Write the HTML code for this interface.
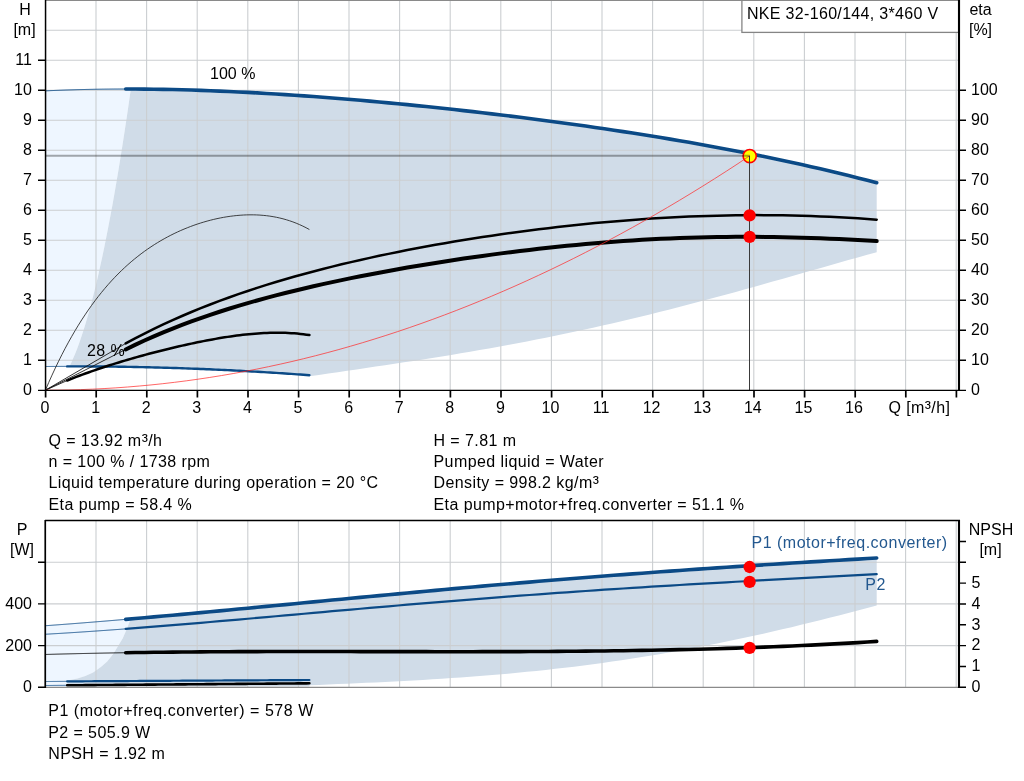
<!DOCTYPE html>
<html lang="en">
<head>
<meta charset="utf-8">
<title>NKE 32-160/144 pump curve</title>
<style>
html,body{margin:0;padding:0;background:#fff;}
body{width:1024px;height:781px;overflow:hidden;font-family:"Liberation Sans",sans-serif;}
svg{display:block;}
</style>
</head>
<body>
<svg width="1024" height="781" viewBox="0 0 1024 781">
<rect width="1024" height="781" fill="#fff"/>
<path d="M45.40,366.51 L45.40,90.87 L53.95,90.49 L62.49,90.15 L71.04,89.86 L79.58,89.62 L88.13,89.42 L96.67,89.26 L105.22,89.14 L113.76,89.07 L122.31,89.03 L130.85,89.03 L130.85,89.03 L128.80,103.29 L126.76,117.20 L124.71,130.77 L122.66,143.99 L120.62,156.87 L118.57,169.40 L116.52,181.58 L114.47,193.42 L112.43,204.91 L110.38,216.06 L108.33,226.86 L106.28,237.32 L104.24,247.43 L102.19,257.19 L100.14,266.61 L98.09,275.68 L96.05,284.41 L94.00,292.79 L91.95,300.82 L89.90,308.51 L87.86,315.85 L85.81,322.85 L83.76,329.50 L81.71,335.81 L79.67,341.77 L77.62,347.38 L75.57,352.65 L73.53,357.57 L71.48,362.15 L69.43,366.38 Z" fill="#eef6ff"/>
<path d="M69.43,366.38 L71.48,362.15 L73.53,357.57 L75.57,352.65 L77.62,347.38 L79.67,341.77 L81.71,335.81 L83.76,329.50 L85.81,322.85 L87.86,315.85 L89.90,308.51 L91.95,300.82 L94.00,292.79 L96.05,284.41 L98.09,275.68 L100.14,266.61 L102.19,257.19 L104.24,247.43 L106.28,237.32 L108.33,226.86 L110.38,216.06 L112.43,204.91 L114.47,193.42 L116.52,181.58 L118.57,169.40 L120.62,156.87 L122.66,143.99 L124.71,130.77 L126.76,117.20 L128.80,103.29 L130.85,89.03 L130.85,89.03 L140.18,89.08 L149.50,89.16 L158.82,89.29 L168.14,89.46 L177.47,89.67 L186.79,89.92 L196.11,90.20 L205.44,90.52 L214.76,90.88 L224.08,91.27 L233.41,91.69 L242.73,92.15 L252.05,92.63 L261.38,93.15 L270.70,93.69 L280.02,94.27 L289.34,94.87 L298.67,95.50 L307.99,96.16 L317.31,96.84 L326.64,97.55 L335.96,98.28 L345.28,99.03 L354.61,99.81 L363.93,100.62 L373.25,101.45 L382.58,102.29 L391.90,103.17 L401.22,104.06 L410.55,104.97 L419.87,105.91 L429.19,106.87 L438.51,107.85 L447.84,108.85 L457.16,109.87 L466.48,110.91 L475.81,111.97 L485.13,113.05 L494.45,114.15 L503.78,115.28 L513.10,116.42 L522.42,117.59 L531.75,118.77 L541.07,119.98 L550.39,121.21 L559.71,122.47 L569.04,123.74 L578.36,125.04 L587.68,126.36 L597.01,127.70 L606.33,129.07 L615.65,130.47 L624.98,131.88 L634.30,133.33 L643.62,134.80 L652.95,136.30 L662.27,137.83 L671.59,139.38 L680.91,140.96 L690.24,142.58 L699.56,144.22 L708.88,145.90 L718.21,147.61 L727.53,149.36 L736.85,151.13 L746.18,152.95 L755.50,154.80 L764.82,156.69 L774.15,158.62 L783.47,160.59 L792.79,162.60 L802.12,164.65 L811.44,166.75 L820.76,168.89 L830.08,171.08 L839.41,173.32 L848.73,175.60 L858.05,177.94 L867.38,180.33 L876.70,182.78 L876.70,252.20 L867.25,254.82 L857.79,257.46 L848.33,260.12 L838.88,262.79 L829.42,265.48 L819.97,268.17 L810.51,270.86 L801.06,273.55 L791.61,276.24 L782.15,278.92 L772.69,281.59 L763.24,284.26 L753.78,286.90 L744.33,289.53 L734.88,292.14 L725.42,294.73 L715.97,297.29 L706.51,299.83 L697.05,302.34 L687.60,304.82 L678.14,307.27 L668.69,309.68 L659.24,312.07 L649.78,314.41 L640.33,316.72 L630.87,319.00 L621.41,321.23 L611.96,323.43 L602.50,325.59 L593.05,327.71 L583.60,329.79 L574.14,331.83 L564.68,333.83 L555.23,335.79 L545.77,337.71 L536.32,339.59 L526.87,341.43 L517.41,343.23 L507.96,345.00 L498.50,346.73 L489.05,348.43 L479.59,350.09 L470.13,351.72 L460.68,353.32 L451.22,354.89 L441.77,356.43 L432.31,357.94 L422.86,359.43 L413.41,360.90 L403.95,362.35 L394.50,363.78 L385.04,365.20 L375.58,366.61 L366.13,368.00 L356.68,369.39 L347.22,370.78 L337.76,372.16 L328.31,373.55 L318.86,374.95 L309.40,376.35 L309.40,375.22 L297.40,374.35 L285.40,373.51 L273.40,372.73 L261.41,371.99 L249.41,371.29 L237.41,370.65 L225.41,370.04 L213.41,369.49 L201.41,368.98 L189.42,368.51 L177.42,368.09 L165.42,367.72 L153.42,367.39 L141.42,367.11 L129.42,366.87 L117.42,366.68 L105.43,366.54 L93.43,366.44 L81.43,366.39 L69.43,366.38 Z" fill="#d0dce8"/>
<path d="M45.40,686.80 L45.40,625.72 L45.40,625.72 L56.05,624.94 L66.70,624.14 L77.35,623.32 L88.00,622.48 L98.65,621.62 L109.30,620.74 L119.95,619.84 L130.60,618.93 L130.60,618.93 L127.50,627.25 L122.80,638.20 L118.10,646.00 L113.40,653.80 L107.20,661.60 L100.90,667.10 L93.10,672.60 L85.30,676.00 L77.50,678.50 L67.30,680.60 L67.30,686.80 Z" fill="#eef6ff"/>
<path d="M67.30,680.60 L77.50,678.50 L85.30,676.00 L93.10,672.60 L100.90,667.10 L107.20,661.60 L113.40,653.80 L118.10,646.00 L122.80,638.20 L127.50,627.25 L130.60,618.93 L130.60,618.93 L143.03,617.85 L155.47,616.75 L167.91,615.63 L180.34,614.50 L192.77,613.36 L205.21,612.20 L217.65,611.04 L230.08,609.86 L242.52,608.68 L254.95,607.49 L267.38,606.30 L279.82,605.11 L292.25,603.92 L304.69,602.72 L317.12,601.52 L329.56,600.33 L342.00,599.14 L354.43,597.95 L366.86,596.77 L379.30,595.59 L391.73,594.42 L404.17,593.26 L416.61,592.10 L429.04,590.96 L441.48,589.82 L453.91,588.69 L466.34,587.58 L478.78,586.47 L491.21,585.38 L503.65,584.30 L516.08,583.23 L528.52,582.18 L540.95,581.13 L553.39,580.11 L565.83,579.09 L578.26,578.09 L590.69,577.11 L603.13,576.13 L615.56,575.18 L628.00,574.24 L640.43,573.31 L652.87,572.39 L665.30,571.49 L677.74,570.61 L690.17,569.73 L702.61,568.87 L715.04,568.03 L727.48,567.20 L739.91,566.38 L752.35,565.57 L764.79,564.77 L777.22,563.98 L789.66,563.21 L802.09,562.44 L814.52,561.68 L826.96,560.93 L839.39,560.19 L851.83,559.46 L864.26,558.73 L876.70,558.00 L876.70,605.51 L867.25,608.03 L857.79,610.53 L848.33,613.00 L838.88,615.45 L829.42,617.85 L819.97,620.23 L810.51,622.57 L801.06,624.87 L791.61,627.13 L782.15,629.36 L772.69,631.54 L763.24,633.68 L753.78,635.78 L744.33,637.83 L734.88,639.84 L725.42,641.80 L715.97,643.72 L706.51,645.59 L697.05,647.41 L687.60,649.18 L678.14,650.90 L668.69,652.58 L659.24,654.21 L649.78,655.78 L640.33,657.31 L630.87,658.79 L621.41,660.22 L611.96,661.59 L602.50,662.93 L593.05,664.21 L583.60,665.44 L574.14,666.63 L564.68,667.77 L555.23,668.86 L545.77,669.91 L536.32,670.91 L526.87,671.87 L517.41,672.79 L507.96,673.66 L498.50,674.50 L489.05,675.30 L479.59,676.05 L470.13,676.78 L460.68,677.46 L451.22,678.12 L441.77,678.74 L432.31,679.34 L422.86,679.90 L413.41,680.44 L403.95,680.96 L394.50,681.45 L385.04,681.93 L375.58,682.39 L366.13,682.83 L356.68,683.26 L347.22,683.68 L337.76,684.09 L328.31,684.50 L318.86,684.91 L309.40,685.32 L309.40,686.50 L67.30,686.50 Z" fill="#d0dce8"/>
<path d="M96.00,1V390 M96.00,521V687 M146.60,1V390 M146.60,521V687 M197.20,1V390 M197.20,521V687 M247.80,1V390 M247.80,521V687 M298.40,1V390 M298.40,521V687 M349.00,1V390 M349.00,521V687 M399.60,1V390 M399.60,521V687 M450.20,1V390 M450.20,521V687 M500.80,1V390 M500.80,521V687 M551.40,1V390 M551.40,521V687 M602.00,1V390 M602.00,521V687 M652.60,1V390 M652.60,521V687 M703.20,1V390 M703.20,521V687 M753.80,1V390 M753.80,521V687 M804.40,1V390 M804.40,521V687 M855.00,1V390 M855.00,521V687 M905.60,1V390 M905.60,521V687 M956.20,1V390 M956.20,521V687 M46,360.20H959 M46,330.20H959 M46,300.20H959 M46,270.20H959 M46,240.20H959 M46,210.20H959 M46,180.20H959 M46,150.20H959 M46,120.20H959 M46,90.20H959 M46,60.20H959 M46,30.20H959 M46,645.60H959 M46,603.90H959 M46,562.20H959" stroke="#cbced1" stroke-width="1.1" fill="none"/>
<path d="M45.40,90.87 L46.40,90.82 L47.41,90.77 L48.41,90.73 L49.41,90.68 L50.42,90.64 L51.42,90.59 L52.43,90.55 L53.43,90.51 L54.43,90.46 L55.44,90.42 L56.44,90.38 L57.45,90.34 L58.45,90.30 L59.45,90.26 L60.46,90.23 L61.46,90.19 L62.46,90.15 L63.47,90.11 L64.47,90.08 L65.47,90.04 L66.48,90.01 L67.48,89.98 L68.49,89.94 L69.49,89.91 L70.49,89.88 L71.50,89.85 L72.50,89.82 L73.50,89.79 L74.51,89.76 L75.51,89.73 L76.52,89.70 L77.52,89.67 L78.52,89.65 L79.53,89.62 L80.53,89.59 L81.53,89.57 L82.54,89.54 L83.54,89.52 L84.55,89.50 L85.55,89.47 L86.55,89.45 L87.56,89.43 L88.56,89.41 L89.56,89.39 L90.57,89.37 L91.57,89.35 L92.58,89.33 L93.58,89.31 L94.58,89.29 L95.59,89.28 L96.59,89.26 L97.60,89.24 L98.60,89.23 L99.60,89.21 L100.61,89.20 L101.61,89.19 L102.61,89.17 L103.62,89.16 L104.62,89.15 L105.63,89.14 L106.63,89.13 L107.63,89.12 L108.64,89.11 L109.64,89.10 L110.64,89.09 L111.65,89.08 L112.65,89.07 L113.66,89.07 L114.66,89.06 L115.66,89.06 L116.67,89.05 L117.67,89.05 L118.67,89.04 L119.68,89.04 L120.68,89.03 L121.69,89.03 L122.69,89.03 L123.69,89.03 L124.70,89.03 L125.70,89.03" stroke="#0b4a86" stroke-width="1.0" fill="none" stroke-linecap="butt" stroke-linejoin="round"/>
<path d="M125.70,89.03 L135.09,89.05 L144.48,89.11 L153.86,89.22 L163.25,89.37 L172.64,89.56 L182.03,89.79 L191.41,90.06 L200.80,90.36 L210.19,90.70 L219.58,91.08 L228.96,91.49 L238.35,91.93 L247.74,92.40 L257.12,92.91 L266.51,93.44 L275.90,94.01 L285.29,94.60 L294.68,95.23 L304.06,95.88 L313.45,96.55 L322.84,97.25 L332.23,97.98 L341.61,98.73 L351.00,99.51 L360.39,100.31 L369.77,101.13 L379.16,101.98 L388.55,102.85 L397.94,103.74 L407.32,104.66 L416.71,105.59 L426.10,106.55 L435.49,107.53 L444.88,108.53 L454.26,109.55 L463.65,110.59 L473.04,111.65 L482.42,112.73 L491.81,113.84 L501.20,114.96 L510.59,116.11 L519.98,117.28 L529.36,118.47 L538.75,119.68 L548.14,120.91 L557.52,122.17 L566.91,123.45 L576.30,124.75 L585.69,126.07 L595.08,127.42 L604.46,128.80 L613.85,130.19 L623.24,131.62 L632.62,133.07 L642.01,134.54 L651.40,136.05 L660.79,137.58 L670.17,139.14 L679.56,140.73 L688.95,142.35 L698.34,144.01 L707.73,145.69 L717.11,147.41 L726.50,149.16 L735.89,150.95 L745.27,152.77 L754.66,154.63 L764.05,156.53 L773.44,158.47 L782.82,160.45 L792.21,162.47 L801.60,164.54 L810.99,166.65 L820.38,168.80 L829.76,171.00 L839.15,173.26 L848.54,175.56 L857.92,177.91 L867.31,180.32 L876.70,182.78" stroke="#0b4a86" stroke-width="3.6" fill="none" stroke-linecap="round" stroke-linejoin="round"/>
<path d="M45.40,366.51 L45.67,366.50 L45.95,366.50 L46.22,366.50 L46.49,366.50 L46.76,366.50 L47.03,366.49 L47.31,366.49 L47.58,366.49 L47.85,366.49 L48.12,366.48 L48.40,366.48 L48.67,366.48 L48.94,366.48 L49.21,366.48 L49.49,366.47 L49.76,366.47 L50.03,366.47 L50.30,366.47 L50.58,366.46 L50.85,366.46 L51.12,366.46 L51.39,366.46 L51.67,366.46 L51.94,366.46 L52.21,366.45 L52.48,366.45 L52.76,366.45 L53.03,366.45 L53.30,366.45 L53.58,366.44 L53.85,366.44 L54.12,366.44 L54.39,366.44 L54.66,366.44 L54.94,366.44 L55.21,366.43 L55.48,366.43 L55.76,366.43 L56.03,366.43 L56.30,366.43 L56.57,366.43 L56.84,366.43 L57.12,366.42 L57.39,366.42 L57.66,366.42 L57.94,366.42 L58.21,366.42 L58.48,366.42 L58.75,366.42 L59.03,366.41 L59.30,366.41 L59.57,366.41 L59.84,366.41 L60.12,366.41 L60.39,366.41 L60.66,366.41 L60.93,366.41 L61.20,366.40 L61.48,366.40 L61.75,366.40 L62.02,366.40 L62.30,366.40 L62.57,366.40 L62.84,366.40 L63.11,366.40 L63.39,366.40 L63.66,366.40 L63.93,366.40 L64.20,366.39 L64.48,366.39 L64.75,366.39 L65.02,366.39 L65.29,366.39 L65.56,366.39 L65.84,366.39 L66.11,366.39 L66.38,366.39 L66.66,366.39 L66.93,366.39 L67.20,366.39" stroke="#0b4a86" stroke-width="1.0" fill="none" stroke-linecap="butt" stroke-linejoin="round"/>
<path d="M67.20,366.39 L70.23,366.38 L73.25,366.38 L76.28,366.38 L79.31,366.39 L82.34,366.39 L85.37,366.40 L88.39,366.41 L91.42,366.43 L94.45,366.45 L97.47,366.47 L100.50,366.49 L103.53,366.52 L106.56,366.55 L109.59,366.59 L112.61,366.62 L115.64,366.66 L118.67,366.70 L121.69,366.75 L124.72,366.79 L127.75,366.85 L130.78,366.90 L133.81,366.96 L136.83,367.01 L139.86,367.08 L142.89,367.14 L145.92,367.21 L148.94,367.28 L151.97,367.36 L155.00,367.43 L158.03,367.51 L161.05,367.60 L164.08,367.68 L167.11,367.77 L170.14,367.86 L173.16,367.96 L176.19,368.05 L179.22,368.15 L182.25,368.26 L185.27,368.36 L188.30,368.47 L191.33,368.58 L194.36,368.70 L197.38,368.82 L200.41,368.94 L203.44,369.06 L206.47,369.19 L209.49,369.32 L212.52,369.45 L215.55,369.58 L218.58,369.72 L221.60,369.86 L224.63,370.01 L227.66,370.15 L230.69,370.30 L233.71,370.46 L236.74,370.61 L239.77,370.77 L242.80,370.93 L245.82,371.10 L248.85,371.26 L251.88,371.43 L254.91,371.61 L257.93,371.78 L260.96,371.96 L263.99,372.14 L267.01,372.33 L270.04,372.52 L273.07,372.71 L276.10,372.90 L279.12,373.10 L282.15,373.30 L285.18,373.50 L288.21,373.70 L291.24,373.91 L294.26,374.12 L297.29,374.34 L300.32,374.55 L303.34,374.77 L306.37,375.00 L309.40,375.22" stroke="#0b4a86" stroke-width="2.4" fill="none" stroke-linecap="round" stroke-linejoin="round"/>
<path d="M45.40,390.20 L48.70,382.55 L52.00,375.17 L55.30,368.07 L58.60,361.22 L61.90,354.63 L65.20,348.28 L68.50,342.16 L71.80,336.28 L75.10,330.61 L78.40,325.16 L81.70,319.92 L85.00,314.88 L88.30,310.03 L91.60,305.36 L94.90,300.88 L98.20,296.57 L101.50,292.43 L104.80,288.45 L108.10,284.62 L111.40,280.95 L114.70,277.42 L118.00,274.03 L121.30,270.77 L124.60,267.65 L127.90,264.65 L131.20,261.77 L134.50,259.01 L137.80,256.36 L141.10,253.81 L144.40,251.38 L147.70,249.04 L151.00,246.80 L154.30,244.65 L157.60,242.60 L160.90,240.63 L164.20,238.75 L167.50,236.95 L170.80,235.23 L174.10,233.59 L177.40,232.03 L180.70,230.53 L184.00,229.12 L187.30,227.77 L190.60,226.49 L193.90,225.28 L197.20,224.14 L200.50,223.06 L203.80,222.05 L207.10,221.10 L210.40,220.22 L213.70,219.40 L217.00,218.65 L220.30,217.96 L223.60,217.34 L226.90,216.79 L230.20,216.30 L233.50,215.88 L236.80,215.52 L240.10,215.24 L243.40,215.03 L246.70,214.89 L250.00,214.83 L253.30,214.84 L256.60,214.93 L259.90,215.10 L263.20,215.36 L266.50,215.70 L269.80,216.13 L273.10,216.66 L276.40,217.28 L279.70,217.99 L283.00,218.81 L286.30,219.74 L289.60,220.77 L292.90,221.92 L296.20,223.19 L299.50,224.58 L302.80,226.10 L306.10,227.74 L309.40,229.53" stroke="#222" stroke-width="0.85" fill="none" stroke-linecap="butt" stroke-linejoin="round"/>
<path d="M45.4,390.2 L125.70,343.44" stroke="#111" stroke-width="0.85" fill="none"/>
<path d="M125.70,343.44 L135.09,338.41 L144.48,333.57 L153.86,328.92 L163.25,324.45 L172.64,320.14 L182.03,316.00 L191.41,312.02 L200.80,308.18 L210.19,304.49 L219.58,300.92 L228.96,297.49 L238.35,294.18 L247.74,290.98 L257.12,287.89 L266.51,284.91 L275.90,282.03 L285.29,279.25 L294.68,276.56 L304.06,273.95 L313.45,271.43 L322.84,268.99 L332.23,266.63 L341.61,264.33 L351.00,262.11 L360.39,259.95 L369.77,257.86 L379.16,255.83 L388.55,253.86 L397.94,251.95 L407.32,250.09 L416.71,248.29 L426.10,246.54 L435.49,244.84 L444.88,243.20 L454.26,241.60 L463.65,240.04 L473.04,238.54 L482.42,237.08 L491.81,235.67 L501.20,234.30 L510.59,232.98 L519.98,231.70 L529.36,230.47 L538.75,229.28 L548.14,228.14 L557.52,227.04 L566.91,225.99 L576.30,224.98 L585.69,224.02 L595.08,223.10 L604.46,222.23 L613.85,221.41 L623.24,220.63 L632.62,219.91 L642.01,219.23 L651.40,218.60 L660.79,218.02 L670.17,217.49 L679.56,217.02 L688.95,216.59 L698.34,216.22 L707.73,215.90 L717.11,215.64 L726.50,215.42 L735.89,215.27 L745.27,215.17 L754.66,215.12 L764.05,215.13 L773.44,215.20 L782.82,215.32 L792.21,215.50 L801.60,215.74 L810.99,216.03 L820.38,216.38 L829.76,216.79 L839.15,217.25 L848.54,217.77 L857.92,218.34 L867.31,218.97 L876.70,219.66" stroke="#000" stroke-width="2.5" fill="none" stroke-linecap="round" stroke-linejoin="round"/>
<path d="M45.4,390.2 L125.70,349.45" stroke="#111" stroke-width="0.85" fill="none"/>
<path d="M125.70,349.45 L135.09,344.91 L144.48,340.56 L153.86,336.40 L163.25,332.42 L172.64,328.60 L182.03,324.95 L191.41,321.45 L200.80,318.09 L210.19,314.86 L219.58,311.76 L228.96,308.78 L238.35,305.91 L247.74,303.14 L257.12,300.47 L266.51,297.90 L275.90,295.41 L285.29,293.01 L294.68,290.69 L304.06,288.44 L313.45,286.26 L322.84,284.14 L332.23,282.09 L341.61,280.10 L351.00,278.16 L360.39,276.28 L369.77,274.44 L379.16,272.66 L388.55,270.93 L397.94,269.24 L407.32,267.59 L416.71,265.99 L426.10,264.43 L435.49,262.91 L444.88,261.43 L454.26,259.99 L463.65,258.59 L473.04,257.23 L482.42,255.91 L491.81,254.63 L501.20,253.39 L510.59,252.19 L519.98,251.03 L529.36,249.91 L538.75,248.83 L548.14,247.79 L557.52,246.79 L566.91,245.84 L576.30,244.93 L585.69,244.06 L595.08,243.25 L604.46,242.47 L613.85,241.75 L623.24,241.07 L632.62,240.44 L642.01,239.85 L651.40,239.32 L660.79,238.84 L670.17,238.41 L679.56,238.02 L688.95,237.69 L698.34,237.41 L707.73,237.19 L717.11,237.01 L726.50,236.89 L735.89,236.81 L745.27,236.79 L754.66,236.82 L764.05,236.89 L773.44,237.02 L782.82,237.19 L792.21,237.41 L801.60,237.67 L810.99,237.97 L820.38,238.32 L829.76,238.70 L839.15,239.12 L848.54,239.57 L857.92,240.05 L867.31,240.56 L876.70,241.09" stroke="#000" stroke-width="4.0" fill="none" stroke-linecap="round" stroke-linejoin="round"/>
<path d="M45.4,390.2 L67.20,380.55" stroke="#111" stroke-width="0.85" fill="none"/>
<path d="M67.20,380.55 L70.23,379.33 L73.25,378.12 L76.28,376.95 L79.31,375.79 L82.34,374.65 L85.37,373.54 L88.39,372.45 L91.42,371.37 L94.45,370.31 L97.47,369.28 L100.50,368.25 L103.53,367.25 L106.56,366.26 L109.59,365.29 L112.61,364.33 L115.64,363.38 L118.67,362.45 L121.69,361.53 L124.72,360.63 L127.75,359.74 L130.78,358.86 L133.81,357.99 L136.83,357.13 L139.86,356.29 L142.89,355.45 L145.92,354.63 L148.94,353.82 L151.97,353.02 L155.00,352.23 L158.03,351.45 L161.05,350.68 L164.08,349.92 L167.11,349.17 L170.14,348.43 L173.16,347.71 L176.19,346.99 L179.22,346.29 L182.25,345.60 L185.27,344.92 L188.30,344.25 L191.33,343.60 L194.36,342.95 L197.38,342.33 L200.41,341.71 L203.44,341.11 L206.47,340.52 L209.49,339.95 L212.52,339.40 L215.55,338.86 L218.58,338.34 L221.60,337.83 L224.63,337.35 L227.66,336.88 L230.69,336.43 L233.71,336.01 L236.74,335.60 L239.77,335.22 L242.80,334.86 L245.82,334.53 L248.85,334.22 L251.88,333.93 L254.91,333.68 L257.93,333.45 L260.96,333.25 L263.99,333.08 L267.01,332.95 L270.04,332.84 L273.07,332.78 L276.10,332.74 L279.12,332.75 L282.15,332.79 L285.18,332.87 L288.21,332.99 L291.24,333.15 L294.26,333.36 L297.29,333.62 L300.32,333.92 L303.34,334.26 L306.37,334.66 L309.40,335.11" stroke="#000" stroke-width="2.5" fill="none" stroke-linecap="round" stroke-linejoin="round"/>
<path d="M45.40,625.72 L46.40,625.65 L47.41,625.58 L48.41,625.51 L49.41,625.43 L50.42,625.36 L51.42,625.29 L52.43,625.21 L53.43,625.14 L54.43,625.06 L55.44,624.99 L56.44,624.92 L57.45,624.84 L58.45,624.77 L59.45,624.69 L60.46,624.62 L61.46,624.54 L62.46,624.47 L63.47,624.39 L64.47,624.31 L65.47,624.24 L66.48,624.16 L67.48,624.08 L68.49,624.01 L69.49,623.93 L70.49,623.85 L71.50,623.78 L72.50,623.70 L73.50,623.62 L74.51,623.54 L75.51,623.46 L76.52,623.39 L77.52,623.31 L78.52,623.23 L79.53,623.15 L80.53,623.07 L81.53,622.99 L82.54,622.91 L83.54,622.83 L84.55,622.75 L85.55,622.67 L86.55,622.59 L87.56,622.51 L88.56,622.43 L89.56,622.35 L90.57,622.27 L91.57,622.19 L92.58,622.11 L93.58,622.03 L94.58,621.95 L95.59,621.87 L96.59,621.79 L97.60,621.70 L98.60,621.62 L99.60,621.54 L100.61,621.46 L101.61,621.37 L102.61,621.29 L103.62,621.21 L104.62,621.13 L105.63,621.04 L106.63,620.96 L107.63,620.88 L108.64,620.79 L109.64,620.71 L110.64,620.63 L111.65,620.54 L112.65,620.46 L113.66,620.37 L114.66,620.29 L115.66,620.20 L116.67,620.12 L117.67,620.03 L118.67,619.95 L119.68,619.86 L120.68,619.78 L121.69,619.69 L122.69,619.61 L123.69,619.52 L124.70,619.44 L125.70,619.35" stroke="#0b4a86" stroke-width="0.9" fill="none" stroke-linecap="butt" stroke-linejoin="round"/>
<path d="M125.70,619.35 L135.09,618.54 L144.48,617.72 L153.86,616.89 L163.25,616.05 L172.64,615.20 L182.03,614.35 L191.41,613.48 L200.80,612.61 L210.19,611.74 L219.58,610.85 L228.96,609.97 L238.35,609.08 L247.74,608.18 L257.12,607.29 L266.51,606.39 L275.90,605.49 L285.29,604.59 L294.68,603.68 L304.06,602.78 L313.45,601.88 L322.84,600.98 L332.23,600.07 L341.61,599.18 L351.00,598.28 L360.39,597.38 L369.77,596.49 L379.16,595.61 L388.55,594.72 L397.94,593.84 L407.32,592.96 L416.71,592.09 L426.10,591.23 L435.49,590.37 L444.88,589.51 L454.26,588.66 L463.65,587.82 L473.04,586.98 L482.42,586.15 L491.81,585.33 L501.20,584.51 L510.59,583.70 L519.98,582.90 L529.36,582.10 L538.75,581.32 L548.14,580.54 L557.52,579.77 L566.91,579.00 L576.30,578.25 L585.69,577.50 L595.08,576.76 L604.46,576.03 L613.85,575.31 L623.24,574.59 L632.62,573.89 L642.01,573.19 L651.40,572.50 L660.79,571.82 L670.17,571.14 L679.56,570.48 L688.95,569.82 L698.34,569.17 L707.73,568.53 L717.11,567.89 L726.50,567.26 L735.89,566.64 L745.27,566.03 L754.66,565.42 L764.05,564.82 L773.44,564.22 L782.82,563.63 L792.21,563.05 L801.60,562.47 L810.99,561.90 L820.38,561.33 L829.76,560.77 L839.15,560.21 L848.54,559.65 L857.92,559.10 L867.31,558.55 L876.70,558.00" stroke="#0b4a86" stroke-width="3.6" fill="none" stroke-linecap="round" stroke-linejoin="round"/>
<path d="M45.40,634.25 L46.40,634.19 L47.41,634.14 L48.41,634.08 L49.41,634.02 L50.42,633.96 L51.42,633.90 L52.43,633.84 L53.43,633.78 L54.43,633.73 L55.44,633.67 L56.44,633.61 L57.45,633.55 L58.45,633.48 L59.45,633.42 L60.46,633.36 L61.46,633.30 L62.46,633.24 L63.47,633.18 L64.47,633.12 L65.47,633.05 L66.48,632.99 L67.48,632.93 L68.49,632.86 L69.49,632.80 L70.49,632.74 L71.50,632.67 L72.50,632.61 L73.50,632.54 L74.51,632.48 L75.51,632.41 L76.52,632.35 L77.52,632.28 L78.52,632.22 L79.53,632.15 L80.53,632.09 L81.53,632.02 L82.54,631.95 L83.54,631.89 L84.55,631.82 L85.55,631.75 L86.55,631.68 L87.56,631.62 L88.56,631.55 L89.56,631.48 L90.57,631.41 L91.57,631.34 L92.58,631.27 L93.58,631.20 L94.58,631.13 L95.59,631.06 L96.59,630.99 L97.60,630.92 L98.60,630.85 L99.60,630.78 L100.61,630.71 L101.61,630.64 L102.61,630.57 L103.62,630.50 L104.62,630.43 L105.63,630.36 L106.63,630.28 L107.63,630.21 L108.64,630.14 L109.64,630.07 L110.64,629.99 L111.65,629.92 L112.65,629.85 L113.66,629.77 L114.66,629.70 L115.66,629.63 L116.67,629.55 L117.67,629.48 L118.67,629.41 L119.68,629.33 L120.68,629.26 L121.69,629.18 L122.69,629.11 L123.69,629.03 L124.70,628.96 L125.70,628.88" stroke="#0b4a86" stroke-width="0.9" fill="none" stroke-linecap="butt" stroke-linejoin="round"/>
<path d="M125.70,628.88 L135.09,628.16 L144.48,627.43 L153.86,626.69 L163.25,625.93 L172.64,625.17 L182.03,624.39 L191.41,623.60 L200.80,622.81 L210.19,622.00 L219.58,621.19 L228.96,620.38 L238.35,619.55 L247.74,618.73 L257.12,617.90 L266.51,617.07 L275.90,616.23 L285.29,615.40 L294.68,614.56 L304.06,613.73 L313.45,612.89 L322.84,612.06 L332.23,611.22 L341.61,610.40 L351.00,609.57 L360.39,608.75 L369.77,607.93 L379.16,607.11 L388.55,606.30 L397.94,605.50 L407.32,604.70 L416.71,603.91 L426.10,603.12 L435.49,602.34 L444.88,601.57 L454.26,600.80 L463.65,600.05 L473.04,599.30 L482.42,598.56 L491.81,597.82 L501.20,597.10 L510.59,596.39 L519.98,595.68 L529.36,594.98 L538.75,594.29 L548.14,593.61 L557.52,592.94 L566.91,592.28 L576.30,591.63 L585.69,590.98 L595.08,590.35 L604.46,589.72 L613.85,589.10 L623.24,588.49 L632.62,587.89 L642.01,587.30 L651.40,586.71 L660.79,586.14 L670.17,585.57 L679.56,585.01 L688.95,584.45 L698.34,583.90 L707.73,583.36 L717.11,582.82 L726.50,582.29 L735.89,581.76 L745.27,581.24 L754.66,580.72 L764.05,580.21 L773.44,579.69 L782.82,579.18 L792.21,578.68 L801.60,578.17 L810.99,577.67 L820.38,577.16 L829.76,576.66 L839.15,576.15 L848.54,575.64 L857.92,575.13 L867.31,574.61 L876.70,574.09" stroke="#0b4a86" stroke-width="2.2" fill="none" stroke-linecap="round" stroke-linejoin="round"/>
<path d="M45.40,654.47 L46.40,654.45 L47.41,654.42 L48.41,654.39 L49.41,654.36 L50.42,654.33 L51.42,654.30 L52.43,654.28 L53.43,654.25 L54.43,654.22 L55.44,654.20 L56.44,654.17 L57.45,654.14 L58.45,654.12 L59.45,654.09 L60.46,654.06 L61.46,654.04 L62.46,654.01 L63.47,653.98 L64.47,653.96 L65.47,653.93 L66.48,653.91 L67.48,653.88 L68.49,653.86 L69.49,653.83 L70.49,653.81 L71.50,653.79 L72.50,653.76 L73.50,653.74 L74.51,653.71 L75.51,653.69 L76.52,653.67 L77.52,653.64 L78.52,653.62 L79.53,653.60 L80.53,653.57 L81.53,653.55 L82.54,653.53 L83.54,653.51 L84.55,653.48 L85.55,653.46 L86.55,653.44 L87.56,653.42 L88.56,653.40 L89.56,653.38 L90.57,653.35 L91.57,653.33 L92.58,653.31 L93.58,653.29 L94.58,653.27 L95.59,653.25 L96.59,653.23 L97.60,653.21 L98.60,653.19 L99.60,653.17 L100.61,653.15 L101.61,653.13 L102.61,653.11 L103.62,653.09 L104.62,653.07 L105.63,653.05 L106.63,653.04 L107.63,653.02 L108.64,653.00 L109.64,652.98 L110.64,652.96 L111.65,652.94 L112.65,652.93 L113.66,652.91 L114.66,652.89 L115.66,652.87 L116.67,652.86 L117.67,652.84 L118.67,652.82 L119.68,652.80 L120.68,652.79 L121.69,652.77 L122.69,652.75 L123.69,652.74 L124.70,652.72 L125.70,652.71" stroke="#000" stroke-width="0.9" fill="none" stroke-linecap="butt" stroke-linejoin="round"/>
<path d="M125.70,652.71 L135.09,652.56 L144.48,652.43 L153.86,652.31 L163.25,652.20 L172.64,652.10 L182.03,652.01 L191.41,651.93 L200.80,651.86 L210.19,651.79 L219.58,651.74 L228.96,651.69 L238.35,651.65 L247.74,651.62 L257.12,651.59 L266.51,651.57 L275.90,651.55 L285.29,651.54 L294.68,651.54 L304.06,651.53 L313.45,651.53 L322.84,651.54 L332.23,651.55 L341.61,651.55 L351.00,651.57 L360.39,651.58 L369.77,651.59 L379.16,651.61 L388.55,651.62 L397.94,651.63 L407.32,651.65 L416.71,651.66 L426.10,651.67 L435.49,651.68 L444.88,651.68 L454.26,651.68 L463.65,651.68 L473.04,651.68 L482.42,651.67 L491.81,651.65 L501.20,651.63 L510.59,651.61 L519.98,651.58 L529.36,651.54 L538.75,651.49 L548.14,651.44 L557.52,651.38 L566.91,651.31 L576.30,651.23 L585.69,651.14 L595.08,651.05 L604.46,650.94 L613.85,650.82 L623.24,650.69 L632.62,650.55 L642.01,650.40 L651.40,650.24 L660.79,650.06 L670.17,649.87 L679.56,649.66 L688.95,649.44 L698.34,649.21 L707.73,648.96 L717.11,648.70 L726.50,648.42 L735.89,648.12 L745.27,647.81 L754.66,647.48 L764.05,647.13 L773.44,646.77 L782.82,646.38 L792.21,645.98 L801.60,645.55 L810.99,645.11 L820.38,644.65 L829.76,644.16 L839.15,643.66 L848.54,643.13 L857.92,642.58 L867.31,642.01 L876.70,641.41" stroke="#000" stroke-width="3.6" fill="none" stroke-linecap="round" stroke-linejoin="round"/>
<path d="M45.40,681.50 L45.67,681.50 L45.95,681.50 L46.22,681.50 L46.49,681.49 L46.76,681.49 L47.03,681.49 L47.31,681.49 L47.58,681.49 L47.85,681.49 L48.12,681.48 L48.40,681.48 L48.67,681.48 L48.94,681.48 L49.21,681.48 L49.49,681.48 L49.76,681.48 L50.03,681.47 L50.30,681.47 L50.58,681.47 L50.85,681.47 L51.12,681.47 L51.39,681.47 L51.67,681.46 L51.94,681.46 L52.21,681.46 L52.48,681.46 L52.76,681.46 L53.03,681.46 L53.30,681.45 L53.58,681.45 L53.85,681.45 L54.12,681.45 L54.39,681.45 L54.66,681.45 L54.94,681.45 L55.21,681.44 L55.48,681.44 L55.76,681.44 L56.03,681.44 L56.30,681.44 L56.57,681.44 L56.84,681.43 L57.12,681.43 L57.39,681.43 L57.66,681.43 L57.94,681.43 L58.21,681.43 L58.48,681.43 L58.75,681.42 L59.03,681.42 L59.30,681.42 L59.57,681.42 L59.84,681.42 L60.12,681.42 L60.39,681.41 L60.66,681.41 L60.93,681.41 L61.20,681.41 L61.48,681.41 L61.75,681.41 L62.02,681.40 L62.30,681.40 L62.57,681.40 L62.84,681.40 L63.11,681.40 L63.39,681.40 L63.66,681.40 L63.93,681.39 L64.20,681.39 L64.48,681.39 L64.75,681.39 L65.02,681.39 L65.29,681.39 L65.56,681.38 L65.84,681.38 L66.11,681.38 L66.38,681.38 L66.66,681.38 L66.93,681.38 L67.20,681.38" stroke="#0b4a86" stroke-width="0.9" fill="none" stroke-linecap="butt" stroke-linejoin="round"/>
<path d="M67.20,681.38 L70.23,681.36 L73.25,681.34 L76.28,681.32 L79.31,681.31 L82.34,681.29 L85.37,681.27 L88.39,681.25 L91.42,681.24 L94.45,681.22 L97.47,681.20 L100.50,681.18 L103.53,681.17 L106.56,681.15 L109.59,681.13 L112.61,681.11 L115.64,681.10 L118.67,681.08 L121.69,681.06 L124.72,681.05 L127.75,681.03 L130.78,681.01 L133.81,680.99 L136.83,680.98 L139.86,680.96 L142.89,680.94 L145.92,680.92 L148.94,680.91 L151.97,680.89 L155.00,680.87 L158.03,680.85 L161.05,680.84 L164.08,680.82 L167.11,680.80 L170.14,680.79 L173.16,680.77 L176.19,680.75 L179.22,680.73 L182.25,680.72 L185.27,680.70 L188.30,680.68 L191.33,680.66 L194.36,680.65 L197.38,680.63 L200.41,680.61 L203.44,680.59 L206.47,680.58 L209.49,680.56 L212.52,680.54 L215.55,680.52 L218.58,680.51 L221.60,680.49 L224.63,680.47 L227.66,680.46 L230.69,680.44 L233.71,680.42 L236.74,680.40 L239.77,680.39 L242.80,680.37 L245.82,680.35 L248.85,680.33 L251.88,680.32 L254.91,680.30 L257.93,680.28 L260.96,680.26 L263.99,680.25 L267.01,680.23 L270.04,680.21 L273.07,680.20 L276.10,680.18 L279.12,680.16 L282.15,680.14 L285.18,680.13 L288.21,680.11 L291.24,680.09 L294.26,680.07 L297.29,680.06 L300.32,680.04 L303.34,680.02 L306.37,680.00 L309.40,679.99" stroke="#0b4a86" stroke-width="2.2" fill="none" stroke-linecap="round" stroke-linejoin="round"/>
<path d="M45.40,685.50 L45.67,685.50 L45.95,685.50 L46.22,685.49 L46.49,685.49 L46.76,685.49 L47.03,685.49 L47.31,685.48 L47.58,685.48 L47.85,685.48 L48.12,685.48 L48.40,685.48 L48.67,685.47 L48.94,685.47 L49.21,685.47 L49.49,685.47 L49.76,685.46 L50.03,685.46 L50.30,685.46 L50.58,685.46 L50.85,685.45 L51.12,685.45 L51.39,685.45 L51.67,685.45 L51.94,685.45 L52.21,685.44 L52.48,685.44 L52.76,685.44 L53.03,685.44 L53.30,685.43 L53.58,685.43 L53.85,685.43 L54.12,685.43 L54.39,685.43 L54.66,685.42 L54.94,685.42 L55.21,685.42 L55.48,685.42 L55.76,685.41 L56.03,685.41 L56.30,685.41 L56.57,685.41 L56.84,685.41 L57.12,685.40 L57.39,685.40 L57.66,685.40 L57.94,685.40 L58.21,685.39 L58.48,685.39 L58.75,685.39 L59.03,685.39 L59.30,685.38 L59.57,685.38 L59.84,685.38 L60.12,685.38 L60.39,685.38 L60.66,685.37 L60.93,685.37 L61.20,685.37 L61.48,685.37 L61.75,685.36 L62.02,685.36 L62.30,685.36 L62.57,685.36 L62.84,685.36 L63.11,685.35 L63.39,685.35 L63.66,685.35 L63.93,685.35 L64.20,685.34 L64.48,685.34 L64.75,685.34 L65.02,685.34 L65.29,685.33 L65.56,685.33 L65.84,685.33 L66.11,685.33 L66.38,685.33 L66.66,685.32 L66.93,685.32 L67.20,685.32" stroke="#0b4a86" stroke-width="0.9" fill="none" stroke-linecap="butt" stroke-linejoin="round"/>
<path d="M67.20,685.32 L70.23,685.29 L73.25,685.27 L76.28,685.24 L79.31,685.22 L82.34,685.19 L85.37,685.17 L88.39,685.14 L91.42,685.12 L94.45,685.09 L97.47,685.07 L100.50,685.04 L103.53,685.02 L106.56,684.99 L109.59,684.97 L112.61,684.94 L115.64,684.92 L118.67,684.89 L121.69,684.87 L124.72,684.84 L127.75,684.82 L130.78,684.79 L133.81,684.77 L136.83,684.74 L139.86,684.72 L142.89,684.69 L145.92,684.67 L148.94,684.64 L151.97,684.62 L155.00,684.59 L158.03,684.57 L161.05,684.54 L164.08,684.51 L167.11,684.49 L170.14,684.46 L173.16,684.44 L176.19,684.41 L179.22,684.39 L182.25,684.36 L185.27,684.34 L188.30,684.31 L191.33,684.29 L194.36,684.26 L197.38,684.24 L200.41,684.21 L203.44,684.19 L206.47,684.16 L209.49,684.14 L212.52,684.11 L215.55,684.09 L218.58,684.06 L221.60,684.04 L224.63,684.01 L227.66,683.99 L230.69,683.96 L233.71,683.94 L236.74,683.91 L239.77,683.89 L242.80,683.86 L245.82,683.84 L248.85,683.81 L251.88,683.79 L254.91,683.76 L257.93,683.74 L260.96,683.71 L263.99,683.69 L267.01,683.66 L270.04,683.64 L273.07,683.61 L276.10,683.59 L279.12,683.56 L282.15,683.53 L285.18,683.51 L288.21,683.48 L291.24,683.46 L294.26,683.43 L297.29,683.41 L300.32,683.38 L303.34,683.36 L306.37,683.33 L309.40,683.31" stroke="#000" stroke-width="2.6" fill="none" stroke-linecap="round" stroke-linejoin="round"/>
<circle cx="749.7" cy="156.05" r="6.6" fill="#ffff00" stroke="#ff0000" stroke-width="1.6"/>
<path d="M45.40,390.20 L57.14,390.13 L68.88,389.94 L80.62,389.61 L92.36,389.16 L104.10,388.57 L115.84,387.86 L127.57,387.01 L139.31,386.03 L151.05,384.93 L162.79,383.69 L174.53,382.32 L186.27,380.83 L198.01,379.20 L209.75,377.44 L221.49,375.56 L233.23,373.54 L244.97,371.39 L256.71,369.11 L268.44,366.70 L280.18,364.17 L291.92,361.50 L303.66,358.70 L315.40,355.77 L327.14,352.71 L338.88,349.52 L350.62,346.20 L362.36,342.75 L374.10,339.17 L385.84,335.46 L397.58,331.62 L409.32,327.65 L421.05,323.55 L432.79,319.32 L444.53,314.96 L456.27,310.47 L468.01,305.85 L479.75,301.10 L491.49,296.22 L503.23,291.21 L514.97,286.07 L526.71,280.79 L538.45,275.39 L550.19,269.86 L561.92,264.20 L573.66,258.41 L585.40,252.48 L597.14,246.43 L608.88,240.25 L620.62,233.93 L632.36,227.49 L644.10,220.92 L655.84,214.21 L667.58,207.38 L679.32,200.42 L691.06,193.32 L702.80,186.10 L714.53,178.74 L726.27,171.26 L738.01,163.64 L749.60,155.80" stroke="#ff2a2a" stroke-opacity="0.9" stroke-width="0.8" fill="none"/>
<path d="M46,155.8H749.6" stroke="#000" stroke-opacity="0.33" stroke-width="1.9" fill="none"/>
<path d="M749.5,155.8V390" stroke="#3a3a3a" stroke-width="1" fill="none"/>
<circle cx="749.6" cy="215.3" r="6.15" fill="#ff0000"/>
<circle cx="749.6" cy="236.9" r="6.15" fill="#ff0000"/>
<circle cx="749.6" cy="567.0" r="6.15" fill="#ff0000"/>
<circle cx="749.6" cy="581.9" r="6.15" fill="#ff0000"/>
<circle cx="749.6" cy="647.8" r="6.15" fill="#ff0000"/>
<path d="M45,0.5H960" stroke="#8a8a8a" stroke-width="1" fill="none"/>
<rect x="741.9" y="0.3" width="217.5" height="32.1" fill="#fff" stroke="#858585" stroke-width="1.3"/>
<path d="M46,687.3H959" stroke="#8a8a8a" stroke-width="1.2" fill="none"/>
<path d="M38,390.4H966 M38,360.20H45.4 M38,330.20H45.4 M38,300.20H45.4 M38,270.20H45.4 M38,240.20H45.4 M38,210.20H45.4 M38,180.20H45.4 M38,150.20H45.4 M38,120.20H45.4 M38,90.20H45.4 M38,60.20H45.4 M959,360.20H966 M959,330.20H966 M959,300.20H966 M959,270.20H966 M959,240.20H966 M959,210.20H966 M959,180.20H966 M959,150.20H966 M959,120.20H966 M959,90.20H966 M45,520.5H960 M38,687.30H45.4 M38,645.60H45.4 M38,603.90H45.4 M38,562.20H45.4 M959,687.30H966 M959,666.47H966 M959,645.64H966 M959,624.81H966 M959,603.98H966 M959,583.15H966 M959,562.32H966 M959,541.49H966" stroke="#000" stroke-width="1.4" fill="none"/>
<path d="M45.60,390.2V397.5 M96.20,390.2V397.5 M146.80,390.2V397.5 M197.40,390.2V397.5 M248.00,390.2V397.5 M298.60,390.2V397.5 M349.20,390.2V397.5 M399.80,390.2V397.5 M450.40,390.2V397.5 M501.00,390.2V397.5 M551.60,390.2V397.5 M602.20,390.2V397.5 M652.80,390.2V397.5 M703.40,390.2V397.5 M754.00,390.2V397.5 M804.60,390.2V397.5 M855.20,390.2V397.5 M905.80,390.2V397.5 M956.40,390.2V397.5" stroke="#000" stroke-width="1.7" fill="none"/>
<path d="M45.55,0V391" stroke="#000" stroke-width="1.5" fill="none"/>
<path d="M45.25,520V688" stroke="#000" stroke-width="1.7" fill="none"/>
<path d="M959,0V391 M959,520V688" stroke="#000" stroke-width="2.1" fill="none"/>
<g font-family="'Liberation Sans', sans-serif" font-size="16px" fill="#000">
<text x="25" y="15.2" text-anchor="middle">H</text>
<text x="24.5" y="35.2" text-anchor="middle">[m]</text>
<text x="31.9" y="395.1" text-anchor="end">0</text>
<text x="31.9" y="365.1" text-anchor="end">1</text>
<text x="31.9" y="335.1" text-anchor="end">2</text>
<text x="31.9" y="305.1" text-anchor="end">3</text>
<text x="31.9" y="275.1" text-anchor="end">4</text>
<text x="31.9" y="245.1" text-anchor="end">5</text>
<text x="31.9" y="215.1" text-anchor="end">6</text>
<text x="31.9" y="185.1" text-anchor="end">7</text>
<text x="31.9" y="155.1" text-anchor="end">8</text>
<text x="31.9" y="125.1" text-anchor="end">9</text>
<text x="31.9" y="95.1" text-anchor="end">10</text>
<text x="31.9" y="65.1" text-anchor="end">11</text>
<text x="971" y="394.9">0</text>
<text x="971" y="364.9">10</text>
<text x="971" y="334.9">20</text>
<text x="971" y="304.9">30</text>
<text x="971" y="274.9">40</text>
<text x="971" y="244.9">50</text>
<text x="971" y="214.9">60</text>
<text x="971" y="184.9">70</text>
<text x="971" y="154.9">80</text>
<text x="971" y="124.9">90</text>
<text x="971" y="94.9">100</text>
<text x="45.0" y="413.0" text-anchor="middle">0</text>
<text x="95.6" y="413.0" text-anchor="middle">1</text>
<text x="146.2" y="413.0" text-anchor="middle">2</text>
<text x="196.8" y="413.0" text-anchor="middle">3</text>
<text x="247.4" y="413.0" text-anchor="middle">4</text>
<text x="298.0" y="413.0" text-anchor="middle">5</text>
<text x="348.6" y="413.0" text-anchor="middle">6</text>
<text x="399.2" y="413.0" text-anchor="middle">7</text>
<text x="449.8" y="413.0" text-anchor="middle">8</text>
<text x="500.4" y="413.0" text-anchor="middle">9</text>
<text x="550.4" y="413.0" text-anchor="middle">10</text>
<text x="601.0" y="413.0" text-anchor="middle">11</text>
<text x="651.6" y="413.0" text-anchor="middle">12</text>
<text x="702.2" y="413.0" text-anchor="middle">13</text>
<text x="752.8" y="413.0" text-anchor="middle">14</text>
<text x="803.4" y="413.0" text-anchor="middle">15</text>
<text x="854.0" y="413.0" text-anchor="middle">16</text>
<text x="888.5" y="412.8" letter-spacing="0.4">Q [m<tspan font-size="18.5px" dy="0.9">³</tspan><tspan dy="-0.9">/h]</tspan></text>
<text x="980.5" y="15.2" text-anchor="middle">eta</text>
<text x="980.5" y="35.2" text-anchor="middle">[%]</text>
<text x="747.0" y="19.0" letter-spacing="0.32">NKE 32-160/144, 3*460 V</text>
<text x="210" y="78.8" letter-spacing="0">100 %</text>
<text x="87" y="356.0" letter-spacing="0.4">28 %</text>
<text x="48.5" y="445.7" letter-spacing="0.42">Q = 13.92 m<tspan font-size="18.5px" dy="0.9">³</tspan><tspan dy="-0.9">/h</tspan></text>
<text x="48.5" y="467.0" letter-spacing="0.42">n = 100 % / 1738 rpm</text>
<text x="48.5" y="488.4" letter-spacing="0.42">Liquid temperature during operation = 20 °C</text>
<text x="48.5" y="509.7" letter-spacing="0.42">Eta pump = 58.4 %</text>
<text x="433.5" y="445.7" letter-spacing="0.42">H = 7.81 m</text>
<text x="433.5" y="467.0" letter-spacing="0.42">Pumped liquid = Water</text>
<text x="433.5" y="488.4" letter-spacing="0.42">Density = 998.2 kg/m<tspan font-size="18.5px" dy="0.9">³</tspan><tspan dy="-0.9"></tspan></text>
<text x="433.5" y="509.7" letter-spacing="0.42">Eta pump+motor+freq.converter = 51.1 %</text>
<text x="48.2" y="716.2" letter-spacing="0.53">P1 (motor+freq.converter) = 578 W</text>
<text x="48.2" y="737.5" letter-spacing="0.42">P2 = 505.9 W</text>
<text x="48.2" y="758.9" letter-spacing="0.42">NPSH = 1.92 m</text>
<text x="22" y="534.8" text-anchor="middle">P</text>
<text x="22" y="554.8" text-anchor="middle">[W]</text>
<text x="32" y="608.9" text-anchor="end">400</text>
<text x="32" y="650.6" text-anchor="end">200</text>
<text x="32" y="692.3" text-anchor="end">0</text>
<text x="971.5" y="692.0">0</text>
<text x="971.5" y="671.2">1</text>
<text x="971.5" y="650.3">2</text>
<text x="971.5" y="629.5">3</text>
<text x="971.5" y="608.7">4</text>
<text x="971.5" y="587.9">5</text>
<text x="991" y="534.8" text-anchor="middle">NPSH</text>
<text x="990.5" y="554.8" text-anchor="middle">[m]</text>
<text x="751.5" y="547.6" fill="#23588f" letter-spacing="0.5">P1 (motor+freq.converter)</text>
<text x="865.3" y="590.3" fill="#23588f" letter-spacing="0.42">P2</text>
</g>
</svg>
</body>
</html>
